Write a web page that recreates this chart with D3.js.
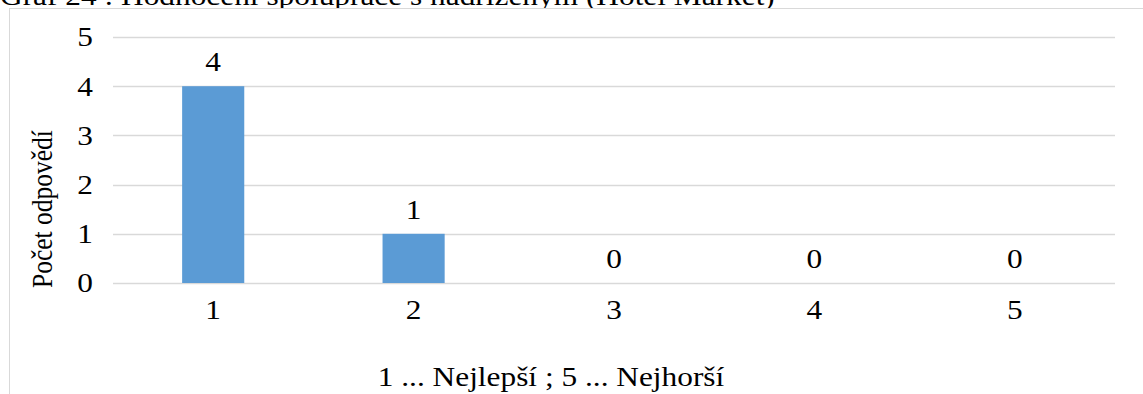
<!DOCTYPE html>
<html>
<head>
<meta charset="utf-8">
<script src="https://cdn.jsdelivr.net/npm/d3@7"></script>
<style>
  html, body { margin: 0; padding: 0; background: #fff; }
  svg { display: block; font-family: "Liberation Serif", "Times New Roman", serif; }
</style>
</head>
<body>
<svg id="chart" width="1143" height="394"></svg>
<script>
// Rating categories (1 = best, 5 = worst) and number of answers
const categories = ["1", "2", "3", "4", "5"];
const counts = [4, 1, 0, 0, 0];
const yTicks = [0, 1, 2, 3, 4, 5];

const titleText = "Graf 24 : Hodnocení spolupráce s nadřízeným (Hotel Market)";
const yTitle = "Počet odpovědí";
const xTitle = "1 ... Nejlepší ; 5 ... Nejhorší";

const W = 1143, H = 394;
const plot = { left: 113, right: 1115, top: 37, bottom: 283 };
const FS = 28;        // text size
const SX = 1.12;      // horizontal text stretch

const svg = d3.select("#chart");

// Caption above the chart frame
svg.append("text")
  .attr("transform", `translate(0,5) scale(${SX},1)`)
  .attr("font-size", FS).attr("fill", "#000")
  .text(titleText);

// Chart frame (left and top edges visible)
svg.append("rect")
  .attr("x", 9.5).attr("y", 8.5)
  .attr("width", W + 10).attr("height", H + 10)
  .attr("fill", "#fff").attr("stroke", "#d9d9d9").attr("stroke-width", 1);

const x = d3.scaleBand().domain(categories)
  .range([plot.left, plot.right]).paddingInner(0.69).paddingOuter(0.345);
const y = d3.scaleLinear().domain([0, 5]).range([plot.bottom, plot.top]);

// Horizontal gridlines
svg.append("g")
  .selectAll("line").data(yTicks).join("line")
  .attr("x1", plot.left).attr("x2", plot.right)
  .attr("y1", d => Math.round(y(d)) + 0.5).attr("y2", d => Math.round(y(d)) + 0.5)
  .attr("stroke", "#d9d9d9").attr("stroke-width", 1.5);

// Y axis tick labels
const yAxis = d3.axisLeft(y).tickValues(yTicks).tickFormat(d3.format("d"))
  .tickSize(0).tickPadding(0);
const gy = svg.append("g").attr("transform", `translate(${plot.left - 20},0)`).call(yAxis);
gy.select(".domain").remove();
gy.selectAll("text")
  .attr("font-size", FS).attr("fill", "#000")
  .attr("font-family", "Liberation Serif, serif")
  .attr("transform", `scale(${SX},1)`);

// X axis tick labels
const xAxis = d3.axisBottom(x).tickSize(0).tickPadding(0);
const gx = svg.append("g").attr("transform", `translate(0,${plot.bottom + 16})`).call(xAxis);
gx.select(".domain").remove();
gx.selectAll("text")
  .attr("font-size", FS).attr("fill", "#000")
  .attr("font-family", "Liberation Serif, serif")
  .attr("transform", `scale(${SX},1)`);

// Bars
svg.append("g")
  .selectAll("rect").data(counts).join("rect")
  .attr("x", (d, i) => x(categories[i]))
  .attr("y", d => y(d))
  .attr("width", x.bandwidth())
  .attr("height", d => y(0) - y(d))
  .attr("fill", "#5b9bd5");

// Value labels
svg.append("g")
  .selectAll("text").data(counts).join("text")
  .attr("transform", (d, i) =>
    `translate(${x(categories[i]) + x.bandwidth() / 2},${y(d) - 15}) scale(${SX},1)`)
  .attr("text-anchor", "middle")
  .attr("font-size", FS).attr("fill", "#000")
  .text(d => d);

// Axis titles
svg.append("text")
  .attr("transform", `translate(52,${(plot.top + plot.bottom) / 2 + 49}) scale(${SX},1) rotate(-90)`)
  .attr("text-anchor", "middle")
  .attr("font-size", 25.5).attr("fill", "#000")
  .text(yTitle);

svg.append("text")
  .attr("transform", `translate(551,386) scale(${SX},1)`)
  .attr("text-anchor", "middle")
  .attr("font-size", FS).attr("fill", "#000")
  .text(xTitle);
</script>
</body>
</html>
